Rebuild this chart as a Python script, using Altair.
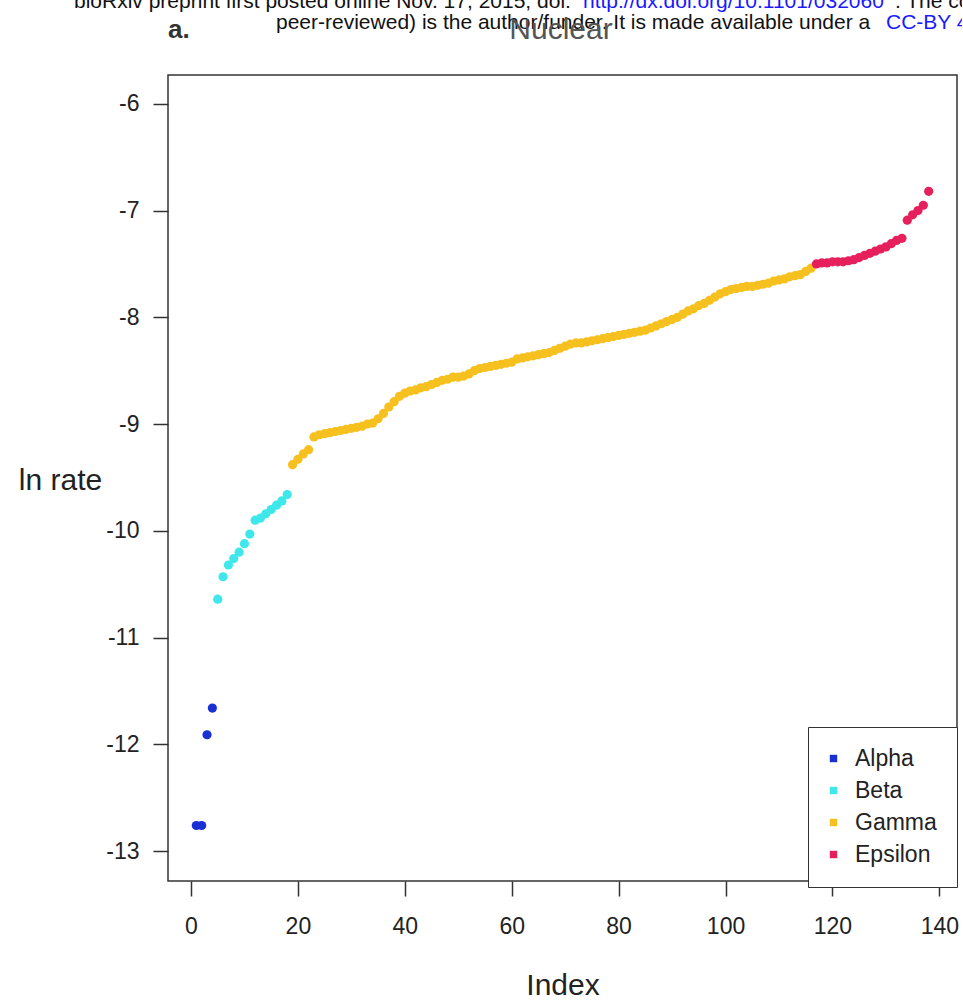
import altair as alt
import pandas as pd

# ---------------- data ----------------
groups = ["Alpha", "Beta", "Gamma", "Epsilon"]
group_colors = ["#1830d4", "#3ee8ea", "#f6c01e", "#e6205c"]

alpha_vals = [-12.76, -12.76, -11.91, -11.66]
beta_vals = [-10.64, -10.43, -10.32, -10.26, -10.20, -10.12, -10.03,
             -9.90, -9.88, -9.84, -9.80, -9.76, -9.72, -9.66]
gamma_vals = [-9.38, -9.33, -9.28, -9.24, -9.12, -9.10, -9.09, -9.08, -9.07, -9.06,
              -9.05, -9.04, -9.03, -9.02, -9.00, -8.99, -8.95, -8.90, -8.84, -8.79,
              -8.74, -8.71, -8.69, -8.68, -8.66, -8.65, -8.63, -8.61, -8.59, -8.58,
              -8.56, -8.56, -8.55, -8.53, -8.50, -8.48, -8.47, -8.46, -8.45, -8.44,
              -8.43, -8.42, -8.39, -8.38, -8.37, -8.36, -8.35, -8.34, -8.33, -8.31,
              -8.29, -8.27, -8.25, -8.24, -8.24, -8.23, -8.22, -8.21, -8.20, -8.19,
              -8.18, -8.17, -8.16, -8.15, -8.14, -8.13, -8.12, -8.10, -8.08, -8.06,
              -8.04, -8.02, -8.00, -7.97, -7.94, -7.92, -7.89, -7.87, -7.84, -7.81,
              -7.78, -7.76, -7.74, -7.73, -7.72, -7.71, -7.71, -7.70, -7.69, -7.68,
              -7.66, -7.65, -7.64, -7.62, -7.61, -7.60, -7.57, -7.54]
epsilon_vals = [-7.50, -7.49, -7.49, -7.48, -7.48, -7.48, -7.47, -7.46, -7.44, -7.42,
                -7.40, -7.38, -7.36, -7.34, -7.31, -7.28, -7.26, -7.09, -7.04, -7.00,
                -6.95, -6.82]

x_ticks = [0, 20, 40, 60, 80, 100, 120, 140]
y_ticks = [-13, -12, -11, -10, -9, -8, -7, -6]

header1 = ["bioRxiv preprint first posted online Nov. 17, 2015; doi: ",
           "http://dx.doi.org/10.1101/032060",
           ". The copyright holder for this preprint (which was not"]
header2 = ["peer-reviewed) is the author/funder. It is made available under a ",
           "CC-BY 4.0 International license"]

# ---------------- table ----------------
vals = alpha_vals + beta_vals + gamma_vals + epsilon_vals
labs = (["Alpha"] * len(alpha_vals) + ["Beta"] * len(beta_vals)
        + ["Gamma"] * len(gamma_vals) + ["Epsilon"] * len(epsilon_vals))
df = pd.DataFrame({"Index": list(range(1, len(vals) + 1)), "rate": vals, "group": labs})

W, H = 789, 806
FONT = "Liberation Sans"

points = alt.Chart(df).mark_circle(size=85, opacity=1).encode(
    x=alt.X("Index:Q",
            scale=alt.Scale(domain=[-4.3, 143.3], nice=False, zero=False),
            axis=alt.Axis(values=x_ticks, title="Index", titleY=104,
                          titleBaseline="middle", labelPadding=19)),
    y=alt.Y("rate:Q",
            scale=alt.Scale(domain=[-13.28, -5.73], nice=False, zero=False),
            axis=alt.Axis(values=y_ticks, title="ln rate", titleAngle=0,
                          titleX=-108, titleY=405, titleAlign="center",
                          titleBaseline="middle", labelPadding=14,
                          labelExpr="'' + datum.value")),
    color=alt.Color("group:N",
                    scale=alt.Scale(domain=groups, range=group_colors),
                    sort=groups,
                    legend=alt.Legend(title=None, orient="none", legendX=640, legendY=652,
                                      symbolType="square", symbolSize=55, symbolOffset=-6,
                                      labelFontSize=23, labelFont=FONT, labelColor="#222",
                                      rowPadding=8, padding=20, labelOffset=10,
                                      strokeColor="#333", fillColor="white")),
)


def txt(s, x, y, size, color="#111", weight="normal", align="left", baseline="alphabetic"):
    return alt.Chart(pd.DataFrame({"t": [s]})).mark_text(
        font=FONT, fontSize=size, color=color, fontWeight=weight,
        align=align, baseline=baseline
    ).encode(text="t:N", x=alt.value(x), y=alt.value(y))


# positions relative to plot origin (168, 75)
annos = [
    txt(header1[0], 74 - 168, 8 - 75, 21),
    txt(header1[1], 583 - 168, 8 - 75, 21, color="#1a1aff"),
    txt(header1[2], 895 - 168, 8 - 75, 21),
    txt(header2[0], 276 - 168, 29 - 75, 21),
    txt(header2[1], 886 - 168, 29 - 75, 21, color="#1a1aff"),
    txt("a.", 168 - 168, 30 - 75, 26, color="#333", weight="bold", baseline="middle"),
    txt("Nuclear", 561 - 168, 30 - 75, 30, color="#555", align="center", baseline="middle"),
]

chart = alt.layer(points, *annos).properties(
    width=W, height=H,
    background="white",
    autosize=alt.AutoSizeParams(type="none"),
    padding={"left": 168, "top": 75, "right": 963 - 168 - W - 1, "bottom": 1001 - 75 - H - 1},
).configure_view(
    stroke="#333", strokeWidth=1.5
).configure_axis(
    grid=False, domain=False, ticks=True, tickColor="#333", tickWidth=1.5, tickSize=15,
    labelFont=FONT, labelFontSize=23, labelColor="#222",
    titleFont=FONT, titleFontSize=30, titleFontWeight="normal", titleColor="#222",
)

chart.save("out.html", embed_options={"renderer": "svg", "actions": False})
